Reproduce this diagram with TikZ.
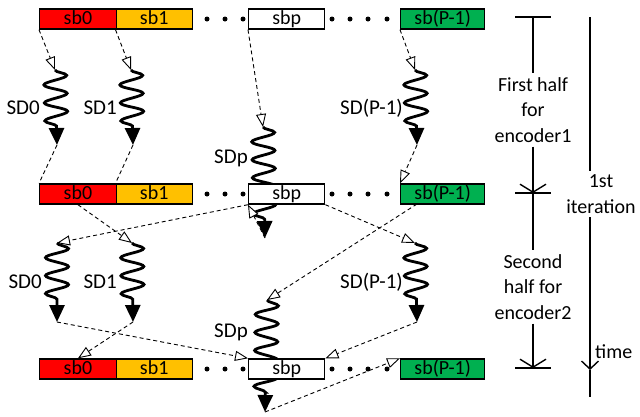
\documentclass[tikz,border=0pt]{standalone}
\usepackage{fontspec}
\setmainfont{Carlito}
\usetikzlibrary{arrows.meta,decorations.pathmorphing,backgrounds,calc}
\definecolor{sbred}{HTML}{FF0000}
\definecolor{sbgold}{HTML}{FFC000}
\definecolor{sbgreen}{HTML}{00B050}
\begin{document}
\begin{tikzpicture}[x=1pt,y=-1pt,
 every node/.style={font=\fontsize{20}{25.5}\selectfont},
 box/.style={draw, line width=1.4pt, minimum height=20pt, inner sep=0pt, anchor=west, text height=13.5pt, text depth=2.5pt},
 dotc/.style={fill, circle, inner sep=0pt, minimum size=5pt},
 lbl/.style={inner sep=0pt, anchor=base east, font=\fontsize{21}{25}\selectfont},
 wave/.style={line width=2.8pt, decorate, decoration={snake, amplitude=11.5pt, segment length=18pt, post length=17pt}, -{Triangle[length=17pt,width=15pt]}},
 feed/.style={line width=0.9pt, dash pattern=on 4pt off 3pt},
 feedto/.style={feed, -{Triangle[length=13pt,width=10pt,fill=white,line width=0.9pt]}},
 bracket/.style={line width=1.4pt},
 brackto/.style={bracket, -{Straight Barb[length=8pt,width=26pt,line width=1.4pt]}},
 timeto/.style={bracket, -{Straight Barb[length=8pt,width=17pt,line width=1.4pt]}},
 side/.style={align=center, inner sep=4pt}
]
\useasboundingbox (0,0) rectangle (640,416);
% boxes
\foreach \r/\y in {1/19,2/194,3/369}{
  \node[box,fill=sbred,minimum width=76.5pt] (a\r) at (39,\y) {sb0};
  \node[box,fill=sbgold,minimum width=76pt] (b\r) at (115.5,\y) {sb1};
  \node[box,fill=white,minimum width=76pt] (p\r) at (248,\y) {sbp};
  \node[box,fill=sbgreen,minimum width=84pt] (q\r) at (400,\y) {sb(P-1)};
}
% wave end points
\coordinate (A1s) at (55,70);  \coordinate (A1e) at (57,145);
\coordinate (B1s) at (131,70); \coordinate (B1e) at (133,145);
\coordinate (P1s) at (263,127); \coordinate (P1e) at (265,238);
\coordinate (Q1s) at (415,70); \coordinate (Q1e) at (417,145);
\coordinate (A2s) at (57,243); \coordinate (A2e) at (57,322);
\coordinate (B2s) at (132,243); \coordinate (B2e) at (133,322);
\coordinate (P2s) at (267,300); \coordinate (P2e) at (265,412);
\coordinate (Q2s) at (415,243); \coordinate (Q2e) at (417,322);
\coordinate (qout) at (417,204);
% connectors behind the boxes
\begin{pgfonlayer}{background}
  \draw[wave] (A1s) -- (A1e);
  \draw[wave] (B1s) -- (B1e);
  \draw[wave] (P1s) -- (P1e);
  \draw[wave] (Q1s) -- (Q1e);
  \draw[wave] (A2s) -- (A2e);
  \draw[wave] (B2s) -- (B2e);
  \draw[wave] (P2s) -- (P2e);
  \draw[wave] (Q2s) -- (Q2e);
  \draw[feedto] (a1.south west) -- (A1s);
  \draw[feedto] (b1.south west) -- (B1s);
  \draw[feedto] (p1.south west) -- (P1s);
  \draw[feedto] (q1.south west) -- (Q1s);
  \draw[feed] (A1e) -- (a2.north west);
  \draw[feed] (B1e) -- (b2.north west);
  \draw[feedto] (Q1e) -- (q2.north west);
  \draw[feedto] (P1e) -- (p2.south west);
  \draw[feedto] (a2.south) -- (B2s);
  \draw[feedto] (p2.south west) -- (A2s);
  \draw[feedto] (p2.south east) -- (Q2s);
  \draw[feedto] (qout) -- (P2s);
  \draw[feedto] (A2e) -- (p3.north west);
  \draw[feedto] (B2e) -- (a3.north);
  \draw[feedto] (Q2e) -- (p3.north east);
  \draw[feedto] (P2e) -- (q3.north west);
\end{pgfonlayer}
% dots
\foreach \r/\y in {1/19,2/194,3/369}{
  \foreach \i/\x in {1/207,2/225,3/243,4/332,5/350,6/368,7/387}{
    \node[dotc] (d\r\i) at (\x,\y) {};
  }
}
% labels
\node[lbl] (lA1) at (40,114) {SD0};
\node[lbl] (lB1) at (117,114) {SD1};
\node[lbl] (lP1) at (248,163) {SDp};
\node[lbl] (lQ1) at (403,114) {SD(P-1)};
\node[lbl] (lA2) at (42,288.5) {SD0};
\node[lbl] (lB2) at (117,288.5) {SD1};
\node[lbl] (lP2) at (248,337.5) {SDp};
\node[lbl] (lQ2) at (403,288.5) {SD(P-1)};
% right side brackets
\coordinate (h1) at (533,17);
\coordinate (h1l) at (515,17); \coordinate (h1r) at (551,17);
\coordinate (h2) at (533,193);
\coordinate (h2l) at (515,193); \coordinate (h2r) at (551,193);
\coordinate (h3) at (533,368);
\coordinate (h3l) at (515,368); \coordinate (h3r) at (551,368);
\node[side] (t1) at (533,110) {First half\\for\\encoder1};
\node[side] (t2) at (533,287) {Second\\half for\\encoder2};
\draw[bracket] (h1l) -- (h1r);
\draw[bracket] (h2l) -- (h2r);
\draw[bracket] (h3l) -- (h3r);
\draw[bracket] (h1) -- (t1.north);
\draw[brackto] (t1.south) -- (h2);
\draw[bracket] (h2) -- (t2.north);
\draw[brackto] (t2.south) -- (h3);
% time line
\node[side] (it) at (601,194) {1st\\iteration};
\coordinate (tl1) at (590,17);
\coordinate (tl4) at (590,370);
\coordinate (tl5) at (590,397);
\draw[bracket] (tl1) -- (tl1 |- it.north);
\draw[timeto] (tl1 |- it.south) -- (tl4);
\draw[bracket] (tl4) -- (tl5);
\node[inner sep=0pt, anchor=base west] (tm) at (595,358) {time};
\end{tikzpicture}
\end{document}
